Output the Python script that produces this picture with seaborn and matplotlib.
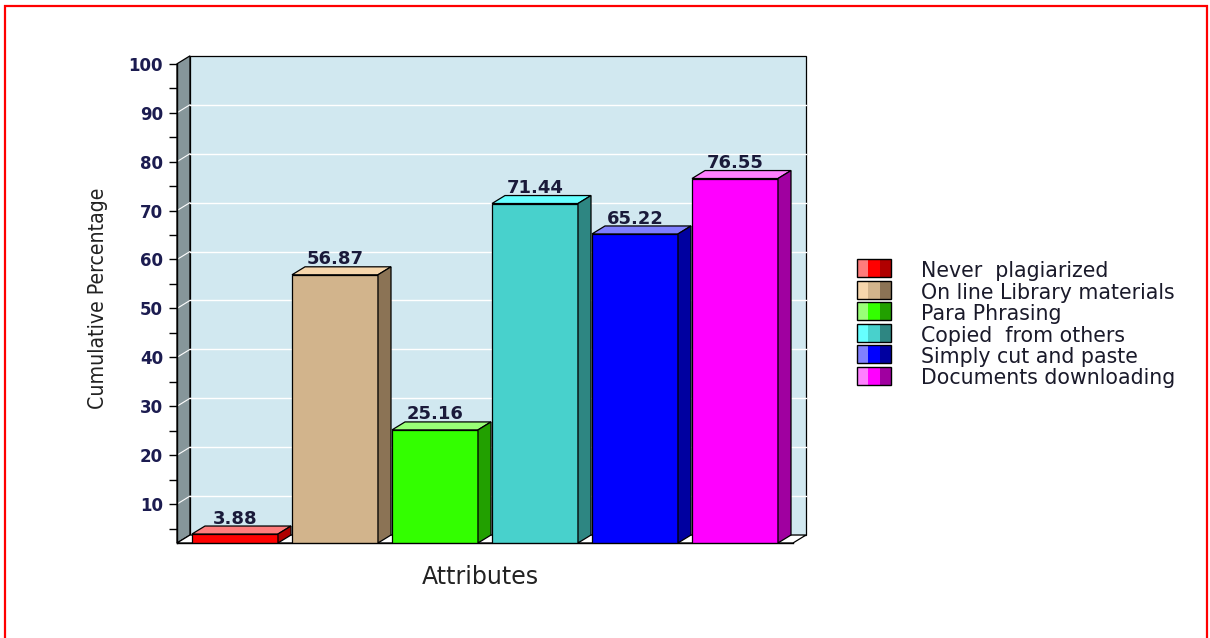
import matplotlib
matplotlib.use("Agg")
import matplotlib.pyplot as plt
from matplotlib import font_manager
from matplotlib.patches import Polygon, Rectangle
import seaborn as sns

# ---- data -------------------------------------------------------------
categories = ["Never  plagiarized", "On line Library materials", "Para Phrasing",
              "Copied  from others", "Simply cut and paste", "Documents downloading"]
values = [3.88, 56.87, 25.16, 71.44, 65.22, 76.55]

front_colors = ["#FF0000", "#D2B48C", "#33FF00", "#48D1CC", "#0000FF", "#FF00FF"]
top_colors = ["#FF7C7C", "#F6D6AC", "#99FF77", "#66FFFF", "#8080FF", "#FF80FF"]
side_colors = ["#B00000", "#8B7355", "#22A000", "#2E8682", "#0000A0", "#A000A0"]

y_ticks = list(range(10, 101, 10))
y_minor = list(range(5, 100, 10))

W, H = 1210, 638
fig = plt.figure(figsize=(W / 100, H / 100), dpi=100)
fig.patch.set_facecolor("white")


def fx(x):
    return x / W


def fy(y):
    return 1 - y / H


# narrow face for the vertical axis title, when one is installed
fonts = font_manager.fontManager.ttflist
narrow_kw = {"family": "Liberation Sans", "fontsize": 15.3}
if any(f.name == "Liberation Sans Narrow" for f in fonts):
    narrow_kw = {"family": "Liberation Sans Narrow", "fontsize": 18.5}
elif any(f.name == "DejaVu Sans" and str(f.stretch) in ("condensed", "semi-condensed")
         for f in fonts):
    narrow_kw = {"family": "DejaVu Sans", "fontstretch": "condensed", "fontsize": 15.2}

# ---- axes (front plane) ----------------------------------------------
x0, x1 = -0.58, 5.73
y0, y1 = 2.04, 101.8
ax = fig.add_axes([fx(177), fy(543), (808 - 177) / W, (543 - 55) / H])
ax.set_facecolor("none")

dx = 0.13          # depth offset, x units
dy = 1.63          # depth offset, y units
back_left = x0 + dx
back_right = 5.71
floor_top = y0 + dy

# left wall
ax.add_patch(Polygon([(x0, y0), (back_left, floor_top), (back_left, 100 + dy), (x0, 100)],
                     closed=True, facecolor="#86969A", edgecolor="black", lw=0.9,
                     zorder=0, clip_on=False))
# back wall
ax.add_patch(Rectangle((back_left, floor_top), back_right - back_left, 100 - y0,
                       facecolor="#D1E8F0", edgecolor="black", lw=0.9, zorder=0,
                       clip_on=False))
# grid lines on the walls
for v in y_ticks[:-1]:
    ax.plot([back_left, back_right], [v + dy, v + dy], color="white", lw=1.0, zorder=1)
    ax.plot([x0, back_left], [v, v + dy], color="white", lw=0.8, zorder=1)
# floor
ax.add_patch(Polygon([(x0, y0), (back_left, floor_top), (back_right, floor_top),
                      (back_right - dx, y0)], closed=True, facecolor="white",
                     edgecolor="black", lw=0.9, zorder=1, clip_on=False))

# ---- bars --------------------------------------------------------------
palette = dict(zip(categories, front_colors))
sns.barplot(x=categories, y=values, hue=categories, palette=palette, width=0.86,
            edgecolor="black", linewidth=0.9, saturation=1, legend=False, ax=ax,
            zorder=3)
ax.set_xlim(x0, x1)
ax.set_ylim(y0, y1)

bars = sorted([p for p in ax.patches if isinstance(p, Rectangle) and p.get_zorder() == 3],
              key=lambda p: p.get_x())
for bar, val, tc, sc in zip(bars, values, top_colors, side_colors):
    bx, bw = bar.get_x(), bar.get_width()
    h = val
    ax.add_patch(Polygon([(bx, h), (bx + dx, h + dy), (bx + bw + dx, h + dy), (bx + bw, h)],
                         closed=True, facecolor=tc, edgecolor="black", lw=0.9, zorder=4))
    ax.add_patch(Polygon([(bx + bw, y0), (bx + bw + dx, floor_top), (bx + bw + dx, h + dy),
                          (bx + bw, h)], closed=True, facecolor=sc, edgecolor="black",
                         lw=0.9, zorder=4, clip_on=False))
    ax.text(bx + bw / 2, h + dy + 0.5, f"{val:.2f}", ha="center", va="baseline",
            fontsize=13, fontweight="bold", color="#1a1a3a", zorder=6)

# front floor edge
ax.plot([x0, back_right - dx], [y0, y0], color="black", lw=1.0, zorder=6, clip_on=False)

# ---- axis styling ------------------------------------------------------
for side in ["top", "right", "bottom"]:
    ax.spines[side].set_visible(False)
ax.spines["left"].set_bounds(y0, 100)
ax.spines["left"].set_linewidth(1.0)
ax.spines["left"].set_zorder(6)
ax.set_xticks([])
ax.set_xlabel("")
ax.set_ylabel("")
ax.set_yticks(y_ticks)
ax.set_yticks(y_minor, minor=True)
ax.tick_params(axis="y", which="both", direction="out", length=6, width=1.0,
               color="black", pad=4)
ax.tick_params(axis="y", which="major", labelsize=12, labelcolor="#1c1c50")
for lab in ax.get_yticklabels():
    lab.set_fontweight("bold")

# axis titles
fig.text(fx(480), fy(577), "Attributes", ha="center", va="center", fontsize=17,
         color="#222222")
fig.text(fx(98), fy(298), "Cumulative Percentage", rotation=90, ha="center",
         va="center", color="#222222", **narrow_kw)

# ---- legend ------------------------------------------------------------
row_h = 21.5
for i, (name, lc, mc, dc) in enumerate(zip(categories, top_colors, front_colors, side_colors)):
    top = 259 + row_h * i
    for j, c in enumerate([lc, mc, dc]):
        fig.add_artist(Rectangle((fx(857 + j * 34 / 3), fy(top + 18)), (34 / 3) / W, 18 / H,
                                 transform=fig.transFigure, facecolor=c, edgecolor="none"))
    fig.add_artist(Rectangle((fx(857), fy(top + 18)), 34 / W, 18 / H,
                             transform=fig.transFigure, facecolor="none",
                             edgecolor="black", lw=1.0))
    fig.text(fx(921), fy(top + 18), name, ha="left", va="baseline", fontsize=14.8,
             color="#1a1a2a")

# page frame
fig.add_artist(Rectangle((fx(5), -0.1), (1207 - 5) / W, fy(6) + 0.1,
                         transform=fig.transFigure, facecolor="none",
                         edgecolor="#FF0000", lw=1.6))

fig.savefig("out.png", dpi=100)
